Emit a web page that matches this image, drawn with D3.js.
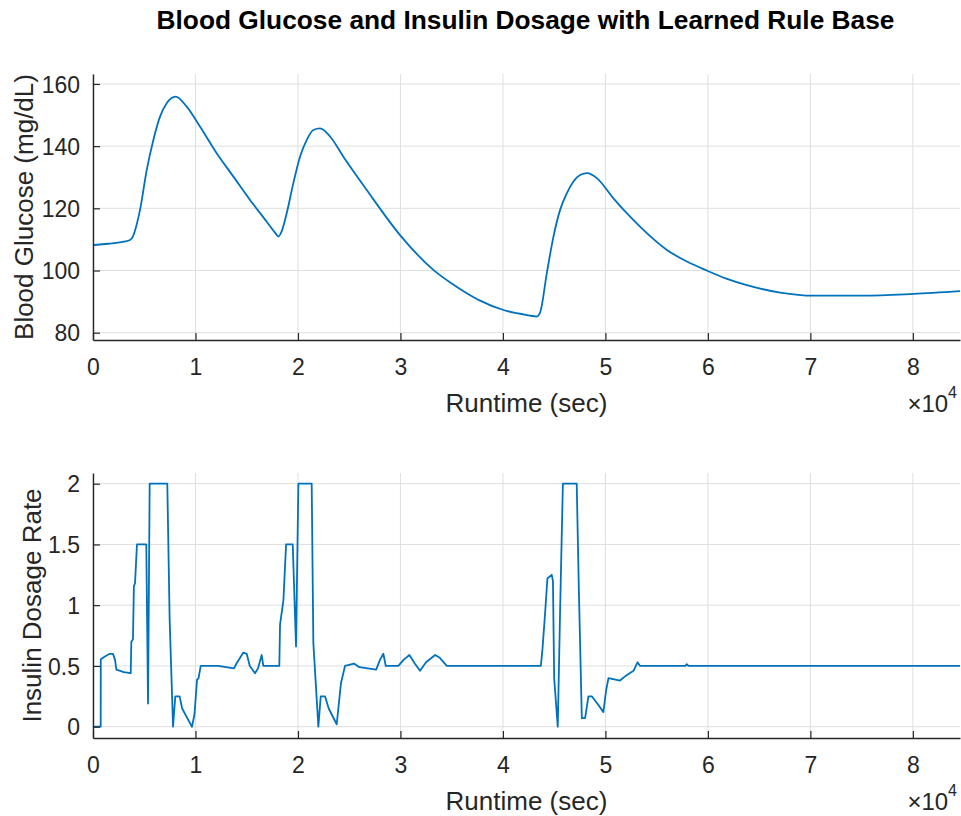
<!DOCTYPE html>
<html>
<head>
<meta charset="utf-8">
<script src="https://cdn.jsdelivr.net/npm/d3@7"></script>
<style>
  html, body { margin: 0; padding: 0; background: #fff; }
  svg { display: block; }
  text { font-family: "Liberation Sans", Arial, Helvetica, sans-serif; fill: #262626; }
</style>
</head>
<body>
<svg id="chart" width="961" height="816"></svg>
<script>
// ---- data ----
const chartTitle = "Blood Glucose and Insulin Dosage with Learned Rule Base";
const xTicks = [0, 10000, 20000, 30000, 40000, 50000, 60000, 70000, 80000];
const xTickLabels = ["0", "1", "2", "3", "4", "5", "6", "7", "8"];
const glucoseTicks = [80, 100, 120, 140, 160];
const insulinTicks = [0, 0.5, 1, 1.5, 2];
const insulinTickLabels = ["0", "0.5", "1", "1.5", "2"];

const glucoseTime = [0, 1500, 3000, 3610, 3900, 4200, 4590, 5240, 5890, 6540, 7190, 8070, 9140, 10440,
  12070, 13700, 15320, 16950, 17800, 18090, 18400, 18900, 19550, 20200, 20860, 21500, 22160, 23130,
  24430, 26710, 29960, 33210, 35000, 36470, 37770, 40050, 42500, 43300, 43630, 44280, 44930, 45580, 46230,
  46880, 47530, 48240, 49160, 50780, 52410, 54040, 56000, 58000, 59890, 61800, 63800, 67050, 70300, 75180,
  80060, 84600];
const glucoseLevel = [108.2, 108.6, 109.3, 109.8, 111, 114, 119.5, 132.3, 142, 149.5, 153.8, 155.9, 152.7, 146.3,
  137.7, 130.2, 122.7, 115.7, 112, 110.9, 112.5, 118.4, 128.1, 136.6, 142, 145.2, 145.7, 143.1,
  136.6, 125.9, 111.4, 100.2, 95.8, 92.7, 90.3, 87.3, 85.6, 85.2, 86.5, 99.1, 110.9, 119.5, 124.8,
  128.6, 130.7, 131.3, 129.7, 123.2, 117.3, 112, 106.6, 102.8, 100.0, 97.4, 95.3, 92.9, 91.9, 91.9,
  92.5, 93.4];

const insulinTime = [0, 750, 760, 1200, 1630, 1950, 2150, 2280, 3000, 3680, 3740, 3900, 3990, 4100, 4290,
  5200, 5370, 5530, 7250, 7480, 7810, 8030, 8450, 8700, 9200, 9660, 9900, 10150, 10300, 10510,
  12200, 13760, 14000, 14670, 15000, 15300, 15810, 16100, 16460, 16620, 18180, 18250, 18580, 18840,
  19490, 19810, 20040, 21340, 21500, 21990, 22220, 22640, 23000, 23780, 24200, 24590, 25460, 26000,
  27630, 28000, 28330, 28570, 29800, 30300, 30870, 31400, 31910, 32500, 33380, 33800, 34520, 43700,
  43860, 44110, 44340, 44760, 44880, 45000, 45350, 45580, 45850, 47200, 47400, 47700, 48020, 48340,
  48670, 49300, 49800, 50070, 50300, 51430, 52000, 52740, 53130, 53390, 57800, 57940, 58100, 84600];
const insulinRate = [0, 0, 0.556, 0.58, 0.60, 0.60, 0.55, 0.47, 0.45, 0.44, 0.70, 0.72, 1.16, 1.18, 1.50,
  1.50, 0.19, 2.0, 2.0, 0.88, 0, 0.25, 0.25, 0.15, 0.07, 0, 0.10, 0.385, 0.40, 0.50,
  0.50, 0.48, 0.52, 0.61, 0.60, 0.50, 0.44, 0.48, 0.59, 0.50, 0.50, 0.84, 1.04, 1.50,
  1.50, 0.66, 2.0, 2.0, 0.69, 0, 0.25, 0.25, 0.15, 0.02, 0.36, 0.50, 0.52, 0.49,
  0.47, 0.55, 0.60, 0.50, 0.50, 0.55, 0.59, 0.52, 0.46, 0.53, 0.59, 0.57, 0.50, 0.50,
  0.64, 0.93, 1.22, 1.25, 1.20, 0.40, 0, 0.96, 2.0, 2.0, 1.16, 0.07, 0.07, 0.25,
  0.25, 0.18, 0.12, 0.30, 0.40, 0.38, 0.42, 0.46, 0.53, 0.50, 0.50, 0.515, 0.50, 0.50];

// ---- layout ----
const svg = d3.select("#chart");
const L = 93, R = 960;
const lineColor = "#0072BD";
const axisColor = "#262626";
const gridColor = "#dfdfdf";
const tickFont = 23, labelFont = 26;

const x = d3.scaleLinear().domain([0, 84600]).range([L, R]);

svg.append("text")
  .attr("x", (L + R) / 2 - 1).attr("y", 29)
  .attr("text-anchor", "middle")
  .style("font-size", "26.3px").style("font-weight", "bold").style("fill", "#000")
  .text(chartTitle);

function panel(opts) {
  const { top, bottom, yDomain, yTicks, yTickLabels, xs, ys, yLabel, yLabelX, curve } = opts;
  const y = d3.scaleLinear().domain(yDomain).range([bottom, top]);
  const g = svg.append("g");

  // grid
  g.append("g").selectAll("line").data(xTicks).join("line")
    .attr("x1", d => x(d)).attr("x2", d => x(d))
    .attr("y1", top).attr("y2", bottom)
    .attr("stroke", gridColor).attr("stroke-width", 1);
  g.append("g").selectAll("line").data(yTicks).join("line")
    .attr("x1", L).attr("x2", R)
    .attr("y1", d => y(d)).attr("y2", d => y(d))
    .attr("stroke", gridColor).attr("stroke-width", 1);

  // data line
  const pts = xs.map((t, i) => [t, ys[i]]);
  g.append("path").datum(pts)
    .attr("fill", "none").attr("stroke", lineColor).attr("stroke-width", 1.8)
    .attr("stroke-linejoin", "round")
    .attr("d", d3.line().x(d => x(d[0])).y(d => y(d[1])).curve(curve));

  // axes (inward ticks)
  const xAxis = d3.axisBottom(x).tickValues(xTicks)
    .tickFormat((d, i) => xTickLabels[i]).tickSizeInner(-7).tickSizeOuter(0).tickPadding(14);
  const gx = g.append("g").attr("transform", `translate(0,${bottom})`).call(xAxis);
  const yAxis = d3.axisLeft(y).tickValues(yTicks)
    .tickFormat((d, i) => yTickLabels[i]).tickSizeInner(-7).tickSizeOuter(0).tickPadding(20);
  const gy = g.append("g").attr("transform", `translate(${L},0)`).call(yAxis);
  [gx, gy].forEach(a => {
    a.select(".domain").attr("stroke", axisColor).attr("stroke-width", 1.4);
    a.selectAll(".tick line").attr("stroke", axisColor).attr("stroke-width", 1.2);
    a.selectAll(".tick text").style("font-size", tickFont + "px").attr("fill", axisColor)
      .style("font-family", '"Liberation Sans", Arial, sans-serif');
  });
  gx.selectAll(".tick text").attr("dy", null).attr("y", 35);
  gy.selectAll(".tick text").attr("dy", "0.36em").attr("x", -13);

  // axis labels
  g.append("text")
    .attr("x", (L + R) / 2).attr("y", bottom + 72)
    .attr("text-anchor", "middle").style("font-size", labelFont + "px")
    .text("Runtime (sec)");
  g.append("text")
    .attr("transform", `translate(${yLabelX},${(top + bottom) / 2}) rotate(-90)`)
    .attr("text-anchor", "middle").style("font-size", labelFont + "px")
    .text(yLabel);

  // exponent
  const ex = g.append("text").attr("x", 957).attr("y", bottom + 72)
    .attr("text-anchor", "end").style("font-size", "24px");
  ex.append("tspan").text("\u00d7");
  ex.append("tspan").text("10");
  ex.append("tspan").attr("dy", -14).style("font-size", "16px").text("4");
}

panel({
  top: 74, bottom: 340, yDomain: [77.65, 163.2],
  yTicks: glucoseTicks, yTickLabels: glucoseTicks.map(String),
  xs: glucoseTime, ys: glucoseLevel,
  yLabel: "Blood Glucose (mg/dL)", yLabelX: 33, curve: d3.curveMonotoneX
});
panel({
  top: 473, bottom: 738, yDomain: [-0.093, 2.088],
  yTicks: insulinTicks, yTickLabels: insulinTickLabels,
  xs: insulinTime, ys: insulinRate,
  yLabel: "Insulin Dosage Rate", yLabelX: 41, curve: d3.curveLinear
});
</script>
</body>
</html>
